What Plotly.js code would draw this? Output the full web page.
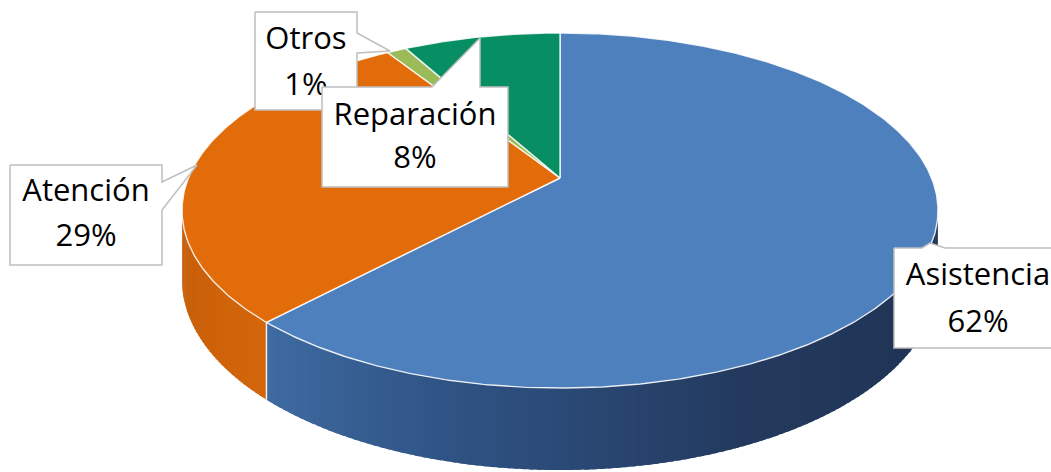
<!DOCTYPE html>
<html>
<head>
<meta charset="utf-8">
<script src="https://cdn.plot.ly/plotly-3.0.1.min.js"></script>
<style>html,body{margin:0;padding:0;background:#fff;}#chart{width:1051px;height:472px;}</style>
</head>
<body>
<div id="chart"></div>
<script>
// ---- data ----
const categories = ['Asistencia', 'Atención', 'Otros', 'Reparación'];
const values = [62, 29, 1, 8];
const topColors = ['#4E80BE', '#E36C0A', '#9BBB59', '#078F63'];

// ---- geometry of the projected 3D pie (layout, not data) ----
const W = 1051, Hh = 472;
const CX = 560, CY = 178;      // pie apex on screen
const A = 371.6, B = 171.6;    // horizontal / vertical radii
const K = 0.183;               // perspective strength
const DEPTH = 67;              // wall height
const START = -90;             // 12 o'clock, clockwise

function proj(phiDeg, r, drop) {
  const p = phiDeg * Math.PI / 180;
  const u = r * Math.cos(p), v = r * Math.sin(p);
  const s = 1 / (1 - K * v);
  return [CX + A * u * s, CY + B * v * s + drop * s];
}
function arcPts(a0, a1, drop) {
  const n = Math.max(2, Math.ceil(Math.abs(a1 - a0) / 0.5));
  const xs = [], ys = [];
  for (let i = 0; i <= n; i++) {
    const a = a0 + (a1 - a0) * i / n;
    const q = proj(a, 1, drop);
    xs.push(q[0]); ys.push(q[1]);
  }
  return [xs, ys];
}
function hexToRgb(h) { return [parseInt(h.slice(1,3),16), parseInt(h.slice(3,5),16), parseInt(h.slice(5,7),16)]; }
function grad(stops, t) {
  for (let i = 0; i < stops.length - 1; i++) {
    const [t0, c0] = stops[i], [t1, c1] = stops[i + 1];
    if (t >= t0 && t <= t1) {
      const f = (t - t0) / (t1 - t0);
      const a = hexToRgb(c0), b = hexToRgb(c1);
      return 'rgb(' + a.map((x, k) => Math.round(x + (b[k] - x) * f)).join(',') + ')';
    }
  }
  return stops[stops.length - 1][1];
}
const wallStops = [
  [[0, '#1E3150'], [0.45, '#233A5E'], [0.75, '#2F5283'], [1, '#3F6CA3']],
  [[0, '#D3660B'], [1, '#C45C09']],
  [[0, '#7E9C45'], [1, '#7E9C45']],
  [[0, '#05704E'], [1, '#05704E']]
];

const total = values.reduce((a, b) => a + b, 0);
const bounds = [];
let acc = START;
values.forEach(v => { const a0 = acc; acc += v / total * 360; bounds.push([a0, acc]); });

// visible wall range (front silhouette)
const visR = Math.asin(K) * 180 / Math.PI;     // right extreme
const visL = 180 - visR;                        // left extreme

const traces = [];
// walls, drawn as overlapping gradient strips
bounds.forEach((b, i) => {
  const lo = Math.max(b[0], visR), hi = Math.min(b[1], visL);
  if (hi <= lo) return;
  const n = Math.ceil((hi - lo) / 1);
  for (let j = 0; j < n; j++) {
    const a0 = lo + (hi - lo) * j / n;
    const a1 = Math.min(hi, lo + (hi - lo) * (j + 1) / n + 0.6);
    const t = (a0 - lo) / (hi - lo);
    const col = grad(wallStops[i], t);
    const top = arcPts(a0, a1, 0), bot = arcPts(a1, a0, DEPTH);
    traces.push({
      type: 'scatter', mode: 'lines', fill: 'toself', fillcolor: col,
      x: top[0].concat(bot[0]), y: top[1].concat(bot[1]),
      line: {color: col, width: 0}, hoverinfo: 'skip', showlegend: false
    });
  }
});
// seams between wall segments
bounds.forEach(b => {
  const a = b[1];
  if (a > visR && a < visL) {
    const p0 = proj(a, 1, 0), p1 = proj(a, 1, DEPTH);
    traces.push({type: 'scatter', mode: 'lines', x: [p0[0], p1[0]], y: [p0[1], p1[1]],
      line: {color: 'rgba(255,255,255,0.85)', width: 1.5}, hoverinfo: 'skip', showlegend: false});
  }
});
// top faces
bounds.forEach((b, i) => {
  const arc = arcPts(b[0], b[1], 0);
  traces.push({
    type: 'scatter', mode: 'lines', fill: 'toself', fillcolor: topColors[i],
    x: [CX].concat(arc[0], [CX]), y: [CY].concat(arc[1], [CY]),
    line: {color: 'rgba(255,255,255,0.85)', width: 1.4}, hoverinfo: 'skip', showlegend: false
  });
});

// ---- callouts (label placement, layout only) ----
const callouts = {
  'Atención':   {box: [[10,165],[162,165],[162,182],[197,165],[162,210],[162,265],[10,265]], tx: 86,  ty: [193, 238]},
  'Asistencia': {box: [[894,248],[922,248],[930,243],[945,248],[1070,248],[1070,348],[894,348]], tx: 978, ty: [277, 324]},
  'Otros':      {box: [[255,12],[357,12],[357,33],[390,51],[357,53],[357,110],[255,110]], tx: 306, ty: [41, 87]},
  'Reparación': {box: [[322,87],[432,87],[480,38],[480,87],[508,87],[508,187],[322,187]], tx: 415, ty: [117, 160]}
};
const order = ['Atención', 'Asistencia', 'Otros', 'Reparación'];
order.forEach(name => {
  const i = categories.indexOf(name);
  const c = callouts[name];
  const bx = c.box.map(p => p[0]).concat([c.box[0][0]]);
  const by = c.box.map(p => p[1]).concat([c.box[0][1]]);
  traces.push({type: 'scatter', mode: 'lines', fill: 'toself', fillcolor: '#FFFFFF',
    x: bx, y: by, line: {color: '#BFBFBF', width: 1.5}, hoverinfo: 'skip', showlegend: false});
  const pct = Math.round(values[i] / total * 100) + '%';
  traces.push({type: 'scatter', mode: 'text', x: [c.tx, c.tx], y: c.ty,
    text: [categories[i], pct], textposition: 'middle center',
    textfont: {family: 'Open Sans, sans-serif', size: 31, color: '#000000'},
    hoverinfo: 'skip', showlegend: false});
});

const layout = {
  width: W, height: Hh,
  margin: {l: 0, r: 0, t: 0, b: 0, pad: 0},
  paper_bgcolor: '#FFFFFF', plot_bgcolor: '#FFFFFF',
  xaxis: {range: [0, W], visible: false, fixedrange: true},
  yaxis: {range: [Hh, 0], visible: false, fixedrange: true},
  showlegend: false
};
Plotly.newPlot('chart', traces, layout, {displayModeBar: false, staticPlot: true});
</script>
</body>
</html>
